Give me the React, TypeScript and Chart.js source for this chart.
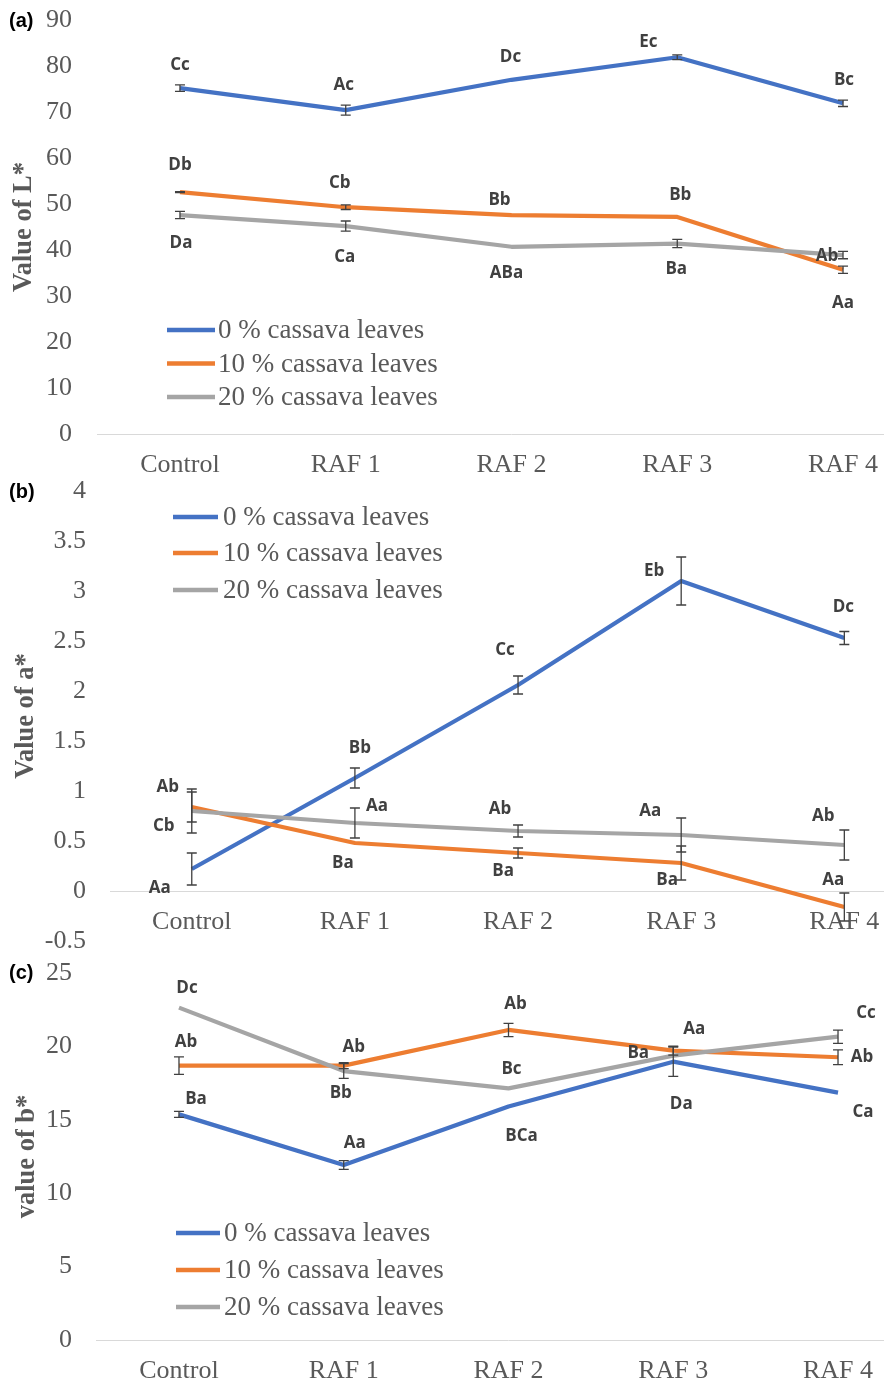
import { useEffect, useRef } from 'react';
import { Chart, registerables } from 'chart.js';

Chart.register(...registerables);

// ---------- data ----------
const categories = ['Control', 'RAF 1', 'RAF 2', 'RAF 3', 'RAF 4'];
const seriesNames = ['0 % cassava leaves', '10 % cassava leaves', '20 % cassava leaves'];

// (a) L*
const lightness0 = [75.2, 70.4, 77.0, 81.9, 71.9];
const lightness10 = [52.6, 49.3, 47.6, 47.2, 35.7];
const lightness20 = [47.6, 45.2, 40.7, 41.4, 38.9];
const lightnessErr0 = [0.7, 1.1, 0, 0.5, 0.7];
const lightnessErr10 = [0.1, 0.5, 0, 0, 0.8];
const lightnessErr20 = [0.8, 1.1, 0, 0.9, 0.8];
const lightnessLetters0 = ['Cc', 'Ac', 'Dc', 'Ec', 'Bc'];
const lightnessLetters10 = ['Db', 'Cb', 'Bb', 'Bb', 'Aa'];
const lightnessLetters20 = ['Da', 'Ca', 'ABa', 'Ba', 'Ab'];

// (b) a*
const redness0 = [0.22, 1.13, 2.06, 3.1, 2.53];
const redness10 = [0.84, 0.48, 0.38, 0.28, -0.16];
const redness20 = [0.8, 0.68, 0.6, 0.56, 0.46];
const rednessErr0 = [0.16, 0.1, 0.09, 0.24, 0.065];
const rednessErr10 = [0.15, 0, 0.05, 0.17, 0.14];
const rednessErr20 = [0.22, 0.15, 0.06, 0.17, 0.15];
const rednessLetters0 = ['Aa', 'Bb', 'Cc', 'Eb', 'Dc'];
const rednessLetters10 = ['Ab', 'Ba', 'Ba', 'Ba', 'Aa'];
const rednessLetters20 = ['Cb', 'Aa', 'Ab', 'Aa', 'Ab'];

// (c) b*
const yellowness0 = [15.37, 11.92, 15.9, 18.96, 16.85];
const yellowness10 = [18.69, 18.69, 21.12, 19.71, 19.26];
const yellowness20 = [22.64, 18.32, 17.14, 19.37, 20.66];
const yellownessErr0 = [0.2, 0.3, 0, 1.0, 0];
const yellownessErr10 = [0.6, 0.2, 0.45, 0.3, 0.5];
const yellownessErr20 = [0, 0.5, 0, 0, 0.45];
const yellownessLetters0 = ['Ba', 'Aa', 'BCa', 'Da', 'Ca'];
const yellownessLetters10 = ['Ab', 'Ab', 'Ab', 'Ba', 'Ab'];
const yellownessLetters20 = ['Dc', 'Bb', 'Bc', 'Aa', 'Cc'];

// ---------- layout / style ----------
const COLORS = ['#4472C4', '#ED7D31', '#A5A5A5'];
const SERIF = '"Liberation Serif", "Times New Roman", serif';
const SANS = '"Open Sans", "Noto Sans", sans-serif';
const TEXT = '#595959';
const CANVAS_W = 940;

// label offsets (dx, dy) from each point, per series
const offsetsA = [
  [[0, -23], [-2, -25], [-1, -23], [-29, -15], [1, -23]],
  [[0, -27], [-6, -24], [-12, -15], [3, -22], [0, 33]],
  [[1, 28], [-1, 31], [-5, 26], [-1, 26], [-16, 1]],
];
const offsetsB = [
  [[-32, 19], [5, -30], [-13, -35], [-27, -10], [-1, -31]],
  [[-24, -20], [-12, 20], [-15, 18], [-14, 17], [-11, -27]],
  [[-28, 15], [22, -17], [-18, -22], [-31, -24], [-21, -29]],
];
const offsetsC = [
  [[17, -15], [11, -22], [13, 30], [8, 42], [25, 20]],
  [[7, -23], [10, -18], [7, -26], [-35, 2], [24, 0]],
  [[8, -19], [-3, 22], [3, -19], [21, -26], [28, -24]],
];

type Spec = {
  tag: string;
  tagY: number;
  top: number;
  height: number;
  chartTop: number;
  chartBottom: number;
  chartLeft: number;
  chartRight: number;
  yMin: number;
  yMax: number;
  yStep: number;
  yTitle: string;
  titlePad: number;
  tickPad: number;
  zeroAxis: boolean;
  values: number[][];
  errors: number[][];
  letters: string[][];
  offsets: number[][][];
  legend: { x1: number; x2: number; textX: number; rows: number[] };
};

const specs: Spec[] = [
  {
    tag: '(a)', tagY: 21, top: 0, height: 490,
    chartTop: 20, chartBottom: 434, chartLeft: 97.1, chartRight: 925.9,
    yMin: 0, yMax: 90, yStep: 10, yTitle: 'Value of L*', titlePad: 8.4, tickPad: 25,
    zeroAxis: false,
    values: [lightness0, lightness10, lightness20],
    errors: [lightnessErr0, lightnessErr10, lightnessErr20],
    letters: [lightnessLetters0, lightnessLetters10, lightnessLetters20],
    offsets: offsetsA,
    legend: { x1: 167, x2: 215, textX: 218, rows: [330, 363.5, 397] },
  },
  {
    tag: '(b)', tagY: 492.5, top: 470, height: 490,
    chartTop: 491, chartBottom: 941, chartLeft: 110.2, chartRight: 925.9,
    yMin: -0.5, yMax: 4, yStep: 0.5, yTitle: 'Value of a*', titlePad: 10.4, tickPad: 24.2,
    zeroAxis: true,
    values: [redness0, redness10, redness20],
    errors: [rednessErr0, rednessErr10, rednessErr20],
    letters: [rednessLetters0, rednessLetters10, rednessLetters20],
    offsets: offsetsB,
    legend: { x1: 173, x2: 218, textX: 223, rows: [517, 553, 590] },
  },
  {
    tag: '(c)', tagY: 973.5, top: 950, height: 434,
    chartTop: 973, chartBottom: 1340, chartLeft: 96.6, chartRight: 920.4,
    yMin: 0, yMax: 25, yStep: 5, yTitle: 'value of b*', titlePad: 11.4, tickPad: 24.6,
    zeroAxis: false,
    values: [yellowness0, yellowness10, yellowness20],
    errors: [yellownessErr0, yellownessErr10, yellownessErr20],
    letters: [yellownessLetters0, yellownessLetters10, yellownessLetters20],
    offsets: offsetsC,
    legend: { x1: 176, x2: 220, textX: 224, rows: [1233, 1270, 1307] },
  },
];

function Panel({ spec }: { spec: Spec }) {
  const ref = useRef<HTMLCanvasElement | null>(null);

  useEffect(() => {
    if (!ref.current) return;
    const padTop = spec.chartTop - spec.top;
    const bottomSpace = spec.top + spec.height - spec.chartBottom;
    const xAxisH = spec.zeroAxis ? 0 : bottomSpace;
    const padBottom = spec.zeroAxis ? bottomSpace : 0;

    const overlay = {
      id: 'overlay' + spec.tag,
      afterDatasetsDraw(chart: any) {
        const ctx = chart.ctx as CanvasRenderingContext2D;
        const xs = chart.scales.x;
        const ys = chart.scales.y;
        ctx.save();
        // error bars
        ctx.strokeStyle = '#404040';
        ctx.lineWidth = 1.3;
        chart.data.datasets.forEach((ds: any, si: number) => {
          ds.data.forEach((v: number, j: number) => {
            const e = spec.errors[si][j];
            if (!e) return;
            const x = xs.getPixelForValue(j);
            const y1 = ys.getPixelForValue(v + e);
            const y2 = ys.getPixelForValue(v - e);
            ctx.beginPath();
            ctx.moveTo(x, y1);
            ctx.lineTo(x, y2);
            ctx.moveTo(x - 5, y1);
            ctx.lineTo(x + 5, y1);
            ctx.moveTo(x - 5, y2);
            ctx.lineTo(x + 5, y2);
            ctx.stroke();
          });
        });
        ctx.restore();
      },
      afterDraw(chart: any) {
        const ctx = chart.ctx as CanvasRenderingContext2D;
        const xs = chart.scales.x;
        const ys = chart.scales.y;
        ctx.save();
        // significance letters
        ctx.font = `bold 17px ${SANS}`;
        ctx.fillStyle = '#404040';
        ctx.textAlign = 'center';
        ctx.textBaseline = 'middle';
        chart.data.datasets.forEach((ds: any, si: number) => {
          ds.data.forEach((v: number, j: number) => {
            const [dx, dy] = spec.offsets[si][j];
            const x = xs.getPixelForValue(j) + dx;
            const y = ys.getPixelForValue(v) + dy;
            ctx.fillText(spec.letters[si][j], x, y);
          });
        });
        // legend
        const lg = spec.legend;
        chart.data.datasets.forEach((ds: any, si: number) => {
          const y = lg.rows[si] - spec.top;
          ctx.strokeStyle = ds.borderColor;
          ctx.lineWidth = 4.5;
          ctx.lineCap = 'butt';
          ctx.beginPath();
          ctx.moveTo(lg.x1, y);
          ctx.lineTo(lg.x2, y);
          ctx.stroke();
          ctx.font = `27px ${SERIF}`;
          ctx.fillStyle = TEXT;
          ctx.textAlign = 'left';
          ctx.textBaseline = 'middle';
          ctx.fillText(ds.label, lg.textX, y + 1);
        });
        // panel tag
        ctx.font = `bold 20px "Liberation Sans", Arial, sans-serif`;
        ctx.fillStyle = '#000';
        ctx.textAlign = 'left';
        ctx.textBaseline = 'middle';
        ctx.fillText(spec.tag, 9, spec.tagY - spec.top);
        ctx.restore();
      },
    };

    const chart = new Chart(ref.current, {
      type: 'line',
      data: {
        labels: categories,
        datasets: spec.values.map((vals, i) => ({
          label: seriesNames[i],
          data: vals,
          borderColor: COLORS[i],
          backgroundColor: COLORS[i],
          borderWidth: 4.2,
          pointRadius: 0,
          tension: 0,
          fill: false,
          borderJoinStyle: 'round',
          order: 3 - i,
        })),
      },
      options: {
        responsive: false,
        animation: false,
        devicePixelRatio: 1,
        layout: {
          padding: { top: padTop, bottom: padBottom, left: 0, right: CANVAS_W - spec.chartRight },
        },
        plugins: { legend: { display: false }, tooltip: { enabled: false }, title: { display: false } },
        scales: {
          x: {
            type: 'category',
            offset: true,
            position: spec.zeroAxis ? { y: 0 } : 'bottom',
            grid: { display: false, drawTicks: false },
            border: { display: true, color: '#d9d9d9', width: 1 },
            ticks: {
              font: { family: SERIF, size: 26 },
              color: TEXT,
              padding: 16,
              maxRotation: 0,
              autoSkip: false,
            },
            afterFit: (s: any) => {
              s.height = xAxisH;
              s.paddingLeft = 0;
              s.paddingRight = 0;
            },
          },
          y: {
            type: 'linear',
            min: spec.yMin,
            max: spec.yMax,
            ticks: {
              stepSize: spec.yStep,
              callback: (v: any) => String(v),
              font: { family: SERIF, size: 26 },
              color: TEXT,
              padding: spec.tickPad,
            },
            grid: { display: false, drawTicks: false },
            border: { display: false },
            title: {
              display: true,
              text: spec.yTitle,
              font: { family: SERIF, size: 26.5, weight: 'bold' },
              color: TEXT,
              padding: { top: spec.titlePad, bottom: 0 },
            },
            afterFit: (s: any) => {
              s.width = spec.chartLeft;
              s.paddingTop = 0;
              s.paddingBottom = 0;
            },
          },
        },
      } as any,
      plugins: [overlay],
    });
    return () => chart.destroy();
  }, [spec]);

  return (
    <canvas
      ref={ref}
      width={CANVAS_W}
      height={spec.height}
      style={{ position: 'absolute', left: 0, top: spec.top, width: CANVAS_W, height: spec.height }}
    />
  );
}

export default function App() {
  return (
    <div
      style={{
        position: 'absolute',
        left: 0,
        top: 0,
        width: 884,
        height: 1384,
        overflow: 'hidden',
        background: '#ffffff',
      }}
    >
      {specs.map((s) => (
        <Panel key={s.tag} spec={s} />
      ))}
    </div>
  );
}
